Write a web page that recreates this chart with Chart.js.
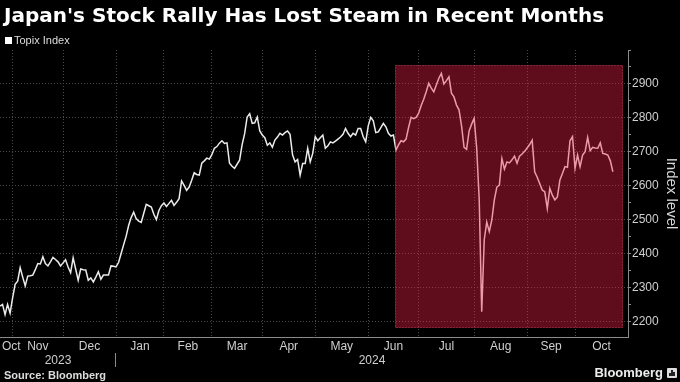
<!DOCTYPE html>
<html>
<head>
<meta charset="utf-8">
<script src="https://cdn.jsdelivr.net/npm/chart.js@4.4.1/dist/chart.umd.min.js"></script>
<style>
html,body{margin:0;padding:0;background:#000;width:680px;height:382px;overflow:hidden;}
#wrap{position:relative;width:680px;height:382px;background:#000;}
canvas{position:absolute;left:0;top:0;}
#title{position:absolute;left:4px;top:3px;color:#fff;font-family:"DejaVu Sans",sans-serif;font-weight:bold;font-size:20px;white-space:nowrap;line-height:24px;}
#legend{position:absolute;left:5px;top:34px;color:#ddd;font-family:"Liberation Sans",Arial,sans-serif;font-size:11px;line-height:13px;white-space:nowrap;}
#legend i{display:inline-block;width:7px;height:7px;background:#fff;margin-right:2px;vertical-align:0px;}
#source{position:absolute;left:4px;top:369px;color:#ddd;font-family:"Liberation Sans",Arial,sans-serif;font-weight:bold;font-size:11px;line-height:13px;white-space:nowrap;}
#brand{position:absolute;right:17px;top:365px;color:#eee;font-family:"Liberation Sans",Arial,sans-serif;font-weight:bold;font-size:13px;line-height:15px;white-space:nowrap;}
#logo{position:absolute;left:667px;top:368px;width:10px;height:10px;background:#ddd;border-radius:1px;}
#logo b{position:absolute;bottom:2px;width:2px;background:#222;}
</style>
</head>
<body>
<div id="wrap">
<canvas id="c" width="680" height="382"></canvas>
<div id="title">Japan's Stock Rally Has Lost Steam in Recent Months</div>
<div id="legend"><i></i>Topix Index</div>
<div id="source">Source: Bloomberg</div>
<div id="brand">Bloomberg</div>
<div id="logo"><b style="left:2px;height:3px"></b><b style="left:4px;height:6px"></b><b style="left:6px;height:4px"></b></div>
</div>
<script>
// Topix Index daily closes, one per trading session (index 0 = late Oct 2023)
const topix = [
2245,2250,2220,2250,2224,2269,2309,2318,2358,2330,
2304,2333,2334,2336,2352,2370,2369,2390,2370,2363,
2375,2388,2382,2375,2363,2372,2381,2360,2343,2387,
2354,2321,2354,2352,2351,2321,2328,2316,2330,2346,
2324,2336,2336,2336,2363,2362,2360,2373,2399,2425,
2450,2482,2505,2521,2502,2495,2491,2518,2544,2540,
2536,2515,2499,2526,2540,2548,2538,2547,2556,2541,
2550,2561,2613,2600,2585,2595,2615,2637,2632,2630,
2665,2672,2680,2677,2690,2709,2714,2724,2731,2723,
2725,2665,2656,2650,2662,2674,2720,2752,2801,2811,
2782,2784,2801,2760,2748,2740,2718,2725,2712,2733,
2742,2753,2748,2755,2760,2750,2690,2669,2676,2630,
2664,2664,2709,2669,2694,2743,2731,2740,2748,2709,
2716,2728,2725,2730,2736,2742,2750,2767,2753,2743,
2753,2748,2767,2767,2743,2728,2775,2800,2790,2755,
2757,2770,2782,2772,2753,2745,2748,2704,2719,2731,
2728,2736,2770,2800,2796,2800,2812,2835,2853,2875,
2900,2886,2875,2895,2915,2929,2898,2908,2919,2871,
2860,2836,2822,2775,2712,2706,2760,2780,2797,2710,
2560,2228,2440,2492,2464,2498,2557,2595,2601,2679,
2648,2669,2666,2675,2686,2665,2686,2692,2700,2710,
2720,2733,2640,2624,2605,2586,2581,2532,2591,2571,
2557,2566,2616,2635,2655,2653,2731,2743,2650,2689,
2655,2689,2699,2741,2702,2712,2710,2709,2725,2694,
2692,2689,2672,2640
];

// Month labels and the trading-session index at which each month begins
const monthLabels = ['Oct','Nov','Dec','Jan','Feb','Mar','Apr','May','Jun','Jul','Aug','Sep','Oct'];
const monthStarts = [0,5,25,46,65,84,104,125,146,166,188,209,228];
const axisEnd = 249;

const yearLabels = ['2023','2024'];
const yearStarts = [0,46];

const yMajorTicks = [2200,2300,2400,2500,2600,2700,2800,2900];

// Highlighted period (mid-June 2024 onward) in data units
const highlightFrom = 156.7, highlightTo = 247.2, highlightLow = 2181, highlightHigh = 2954;

const yMin = 2154, yMax = 2998;

const monthTicks = [];
monthStarts.forEach((s,i)=>{
  const e = i < monthStarts.length-1 ? monthStarts[i+1] : axisEnd;
  if (i > 0) monthTicks.push({value:s, kind:'boundary', lbl:''});
  let mid = (s+e)/2;
  if (i === 0) mid = Math.max(mid, 4.5);
  monthTicks.push({value:mid, kind:'label', lbl:monthLabels[i]});
});
monthTicks.sort((a,b)=>a.value-b.value);

const yearTicks = [];
yearStarts.forEach((s,i)=>{
  const e = i < yearStarts.length-1 ? yearStarts[i+1] : axisEnd;
  yearTicks.push({value:(s+e)/2, kind:'label', lbl:yearLabels[i]});
  if (i > 0) yearTicks.push({value:s - 0.1, kind:'sep', lbl:''});
});
yearTicks.sort((a,b)=>a.value-b.value);

const yTicks = [];
for (let v = 2200; v <= 2950; v += 50) yTicks.push({value:v, major: yMajorTicks.includes(v)});
yTicks.push({value:yMax, major:false});

const highlightPlugin = {
  id:'highlight',
  afterDatasetsDraw(chart){
    const {ctx, scales:{x,y}} = chart;
    const x1 = Math.round(x.getPixelForValue(highlightFrom));
    const x2 = Math.round(x.getPixelForValue(highlightTo));
    const y1 = Math.round(y.getPixelForValue(highlightHigh));
    const y2 = Math.round(y.getPixelForValue(highlightLow));
    ctx.save();
    ctx.fillStyle = 'rgba(238,30,70,0.40)';
    ctx.fillRect(x1, y1, x2-x1, y2-y1);
    ctx.setLineDash([1,2]);
    ctx.lineWidth = 1;
    ctx.strokeStyle = 'rgba(255,130,150,0.45)';
    ctx.strokeRect(x1+0.5, y1+0.5, x2-x1-1, y2-y1-1);
    ctx.restore();
  }
};

const labelFont = {family:'"Liberation Sans", Arial, sans-serif', size:12};

new Chart(document.getElementById('c'), {
  type:'line',
  data:{
    datasets:[{
      label:'Topix Index',
      data: topix.map((v,i)=>({x:i, y:v})),
      borderColor:'#ececec',
      borderWidth:1.5,
      pointRadius:0,
      tension:0,
      fill:false,
      xAxisID:'x',
      yAxisID:'y'
    }]
  },
  options:{
    responsive:false,
    animation:false,
    devicePixelRatio:1,
    layout:{padding:{top:50,left:0,right:0,bottom:13}},
    plugins:{legend:{display:false}, tooltip:{enabled:false}, title:{display:false}},
    scales:{
      x:{
        type:'linear', position:'bottom', min:0, max:axisEnd,
        afterBuildTicks(s){ s.ticks = monthTicks.map(t=>({...t})); },
        afterFit(s){ s.height = 16; s.paddingLeft = 0; s.paddingRight = 0; },
        ticks:{autoSkip:false, maxRotation:0, padding:2, color:'#cfcfcf', font:labelFont,
          callback(v,i,t){ return t[i].lbl; }},
        grid:{drawTicks:false, lineWidth:1,
          color(ctx){ return ctx.tick && ctx.tick.kind==='boundary' ? '#4a4a4a' : 'rgba(0,0,0,0)'; }},
        border:{display:true, color:'#8a8a8a', width:1, dash:[1,2]}
      },
      xy:{
        type:'linear', position:'bottom', min:0, max:axisEnd,
        afterBuildTicks(s){ s.ticks = yearTicks.map(t=>({...t})); },
        afterFit(s){ s.height = 16; s.paddingLeft = 0; s.paddingRight = 0; },
        ticks:{autoSkip:false, maxRotation:0, padding:-14, color:'#cfcfcf', font:labelFont,
          callback(v,i,t){ return t[i].lbl; }},
        grid:{drawOnChartArea:false, drawTicks:true, tickLength:14, color:'rgba(0,0,0,0)',
          tickColor(ctx){ return ctx.tick && ctx.tick.kind==='sep' ? '#8a8a8a' : 'rgba(0,0,0,0)'; }},
        border:{display:false}
      },
      y:{
        type:'linear', position:'right', min:yMin, max:yMax,
        afterBuildTicks(s){ s.ticks = yTicks.map(t=>({...t})); },
        afterFit(s){ s.width = 52; },
        ticks:{autoSkip:false, padding:1, color:'#cfcfcf', font:labelFont,
          callback(v,i,t){ return t[i].major ? String(v) : ''; }},
        grid:{drawTicks:true, tickLength:3, tickColor:'#8a8a8a', lineWidth:1,
          color(ctx){ return ctx.tick && ctx.tick.major ? '#4a4a4a' : 'rgba(0,0,0,0)'; }},
        border:{display:true, color:'#8a8a8a', width:1, dash:[1,2]},
        title:{display:true, text:'Index level', color:'#d8d8d8', padding:{top:0,bottom:0},
          font:{family:'"Liberation Sans", Arial, sans-serif', size:15}}
      }
    }
  },
  plugins:[highlightPlugin]
});
</script>
</body>
</html>
